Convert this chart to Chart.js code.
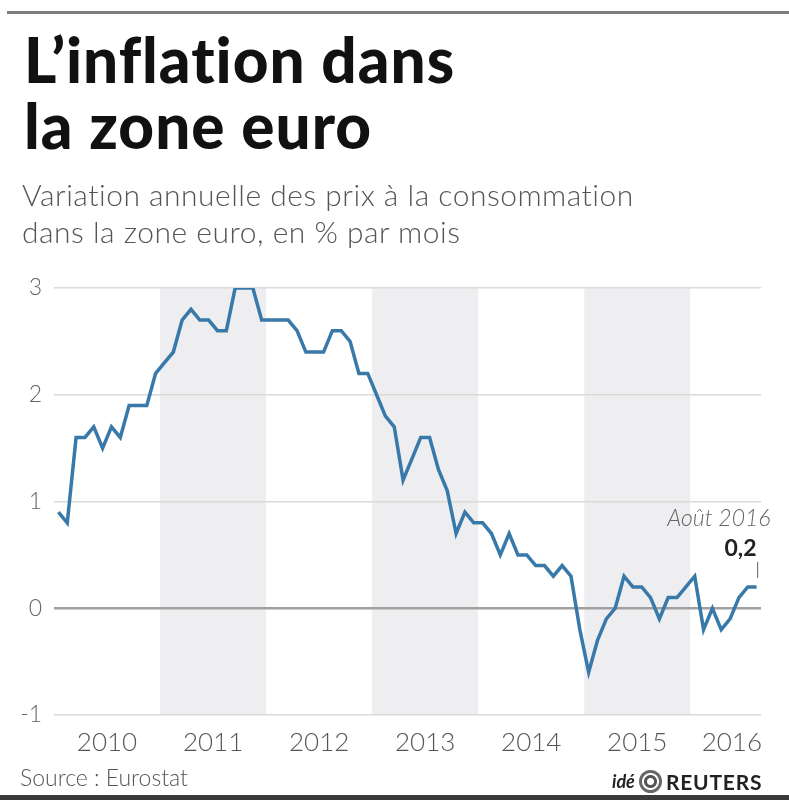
<!DOCTYPE html>
<html><head><meta charset="utf-8">
<script src="https://cdn.jsdelivr.net/npm/chart.js@4"></script>
<style>
html,body{margin:0;padding:0;background:#fff;}
#wrap{position:relative;width:789px;height:800px;overflow:hidden;font-family:Lato,sans-serif;}
canvas{position:absolute;left:0;top:0;}
.topRule{position:absolute;left:7px;right:0;top:11px;height:3px;background:#7d7d7d;}
.bottomRule{position:absolute;left:0;right:0;top:795px;height:5px;background:#3a3a3a;}
h1{position:absolute;left:24px;top:26px;margin:0;font:900 62px/66px Lato,sans-serif;color:#111;letter-spacing:1px;}
.sub{position:absolute;left:22px;top:176px;font:300 30px/37px Lato,sans-serif;color:#555;letter-spacing:0.5px;}
.src{position:absolute;left:20px;top:763px;font:300 23px Lato,sans-serif;color:#555;}
.logo{position:absolute;left:612px;top:768px;height:26px;display:flex;align-items:center;color:#222;}
.logo .ide{font:italic 700 18px Lato,sans-serif;margin-right:4px;}
.logo .dot{width:23px;height:23px;border-radius:50%;background:radial-gradient(circle,#fff 0 3px,#555 4px 6px,#fff 7px 8px,#666 9px 11px);margin-right:4px;}
.logo .reu{font:700 21px Lato,sans-serif;letter-spacing:0.8px;}
</style></head>
<body>
<div id="wrap">
<canvas id="c" width="789" height="800"></canvas>
<div class="topRule"></div>
<h1>L’inflation dans<br>la zone euro</h1>
<div class="sub">Variation annuelle des prix à la consommation<br>dans la zone euro, en % par mois</div>
<div class="src">Source : Eurostat</div>
<div class="logo"><span class="ide">idé</span><span class="dot"></span><span class="reu">REUTERS</span></div>
<div class="bottomRule"></div>
</div>
<script>
// Monthly annual inflation, Jan 2010 .. Aug 2016 (%)
const values2010 = [0.9, 0.8, 1.6, 1.6, 1.7, 1.5, 1.7, 1.6, 1.9, 1.9, 1.9, 2.2];
const values2011 = [2.3, 2.4, 2.7, 2.8, 2.7, 2.7, 2.6, 2.6, 3.0, 3.0, 3.0, 2.7];
const values2012 = [2.7, 2.7, 2.7, 2.6, 2.4, 2.4, 2.4, 2.6, 2.6, 2.5, 2.2, 2.2];
const values2013 = [2.0, 1.8, 1.7, 1.2, 1.4, 1.6, 1.6, 1.3, 1.1, 0.7, 0.9, 0.8];
const values2014 = [0.8, 0.7, 0.5, 0.7, 0.5, 0.5, 0.4, 0.4, 0.3, 0.4, 0.3, -0.2];
const values2015 = [-0.6, -0.3, -0.1, 0.0, 0.3, 0.2, 0.2, 0.1, -0.1, 0.1, 0.1, 0.2];
const values2016 = [0.3, -0.2, 0.0, -0.2, -0.1, 0.1, 0.2, 0.2];
const inflation = [].concat(values2010, values2011, values2012, values2013, values2014, values2015, values2016);

const yearLabels = ['2010', '2011', '2012', '2013', '2014', '2015', '2016'];
const yearTickMonths = [5.5, 17.5, 29.5, 41.5, 53.5, 65.5, 76.2];
const shadedYearStarts = [12, 36, 60];
const yTicks = [-1, 0, 1, 2, 3];
const lastLabel = 'Août 2016';
const lastValueLabel = '0,2';

const points = inflation.map((v, i) => ({x: i, y: v}));

const bandsPlugin = {
  id: 'bands',
  beforeDraw(chart) {
    const {ctx, chartArea, scales} = chart;
    ctx.save();
    ctx.fillStyle = '#eeeef1';
    shadedYearStarts.forEach(s => {
      const x0 = scales.x.getPixelForValue(s - 0.5);
      const x1 = scales.x.getPixelForValue(s + 11.5);
      ctx.fillRect(x0, chartArea.top, x1 - x0, chartArea.bottom - chartArea.top);
    });
    ctx.restore();
  }
};

const annotPlugin = {
  id: 'annot',
  afterDatasetsDraw(chart) {
    const {ctx, scales} = chart;
    const i = inflation.length - 1;
    const px = scales.x.getPixelForValue(i);
    const py = scales.y.getPixelForValue(inflation[i]);
    ctx.save();
    ctx.strokeStyle = '#777';
    ctx.lineWidth = 1.2;
    ctx.beginPath();
    ctx.moveTo(px + 1, py - 9);
    ctx.lineTo(px + 1, py - 25);
    ctx.stroke();
    ctx.textAlign = 'right';
    ctx.textBaseline = 'alphabetic';
    ctx.fillStyle = '#222';
    ctx.font = '700 23px Lato, sans-serif';
    ctx.fillText(lastValueLabel, px, py - 31);
    ctx.fillStyle = '#666';
    ctx.font = 'italic 300 23px Lato, sans-serif';
    ctx.fillText(lastLabel, px + 14, py - 61);
    ctx.restore();
  }
};

new Chart(document.getElementById('c'), {
  type: 'line',
  data: {
    datasets: [{
      data: points,
      borderColor: '#3879a9',
      borderWidth: 3.5,
      pointRadius: 0,
      tension: 0,
      fill: false
    }]
  },
  options: {
    responsive: false,
    animation: false,
    events: [],
    layout: {padding: {top: 288, right: 28, bottom: 0, left: 0}},
    plugins: {legend: {display: false}, tooltip: {enabled: false}},
    scales: {
      x: {
        type: 'linear',
        min: -0.5,
        max: inflation.length - 0.5,
        afterBuildTicks(scale) { scale.ticks = yearTickMonths.map(v => ({value: v})); },
        afterFit(scale) { scale.height = 85; },
        grid: {display: false, drawTicks: false},
        border: {display: false},
        ticks: {
          autoSkip: false, maxRotation: 0, padding: 12,
          color: '#555',
          font: {family: 'Lato', size: 26, weight: '300'},
          callback: (v, idx) => yearLabels[idx]
        }
      },
      y: {
        min: -1, max: 3,
        afterBuildTicks(scale) { scale.ticks = yTicks.map(v => ({value: v})); },
        afterFit(scale) { scale.width = 54; },
        grid: {
          drawTicks: false,
          color: c => c.tick && c.tick.value === 0 ? '#a0a0a0' : '#dadada',
          lineWidth: c => c.tick && c.tick.value === 0 ? 2.5 : 1.5
        },
        border: {display: false},
        ticks: {
          padding: 12,
          color: '#666',
          font: {family: 'Lato', size: 23, weight: '300'},
          callback: v => String(v)
        }
      }
    }
  },
  plugins: [bandsPlugin, annotPlugin]
});
</script>
</body></html>
